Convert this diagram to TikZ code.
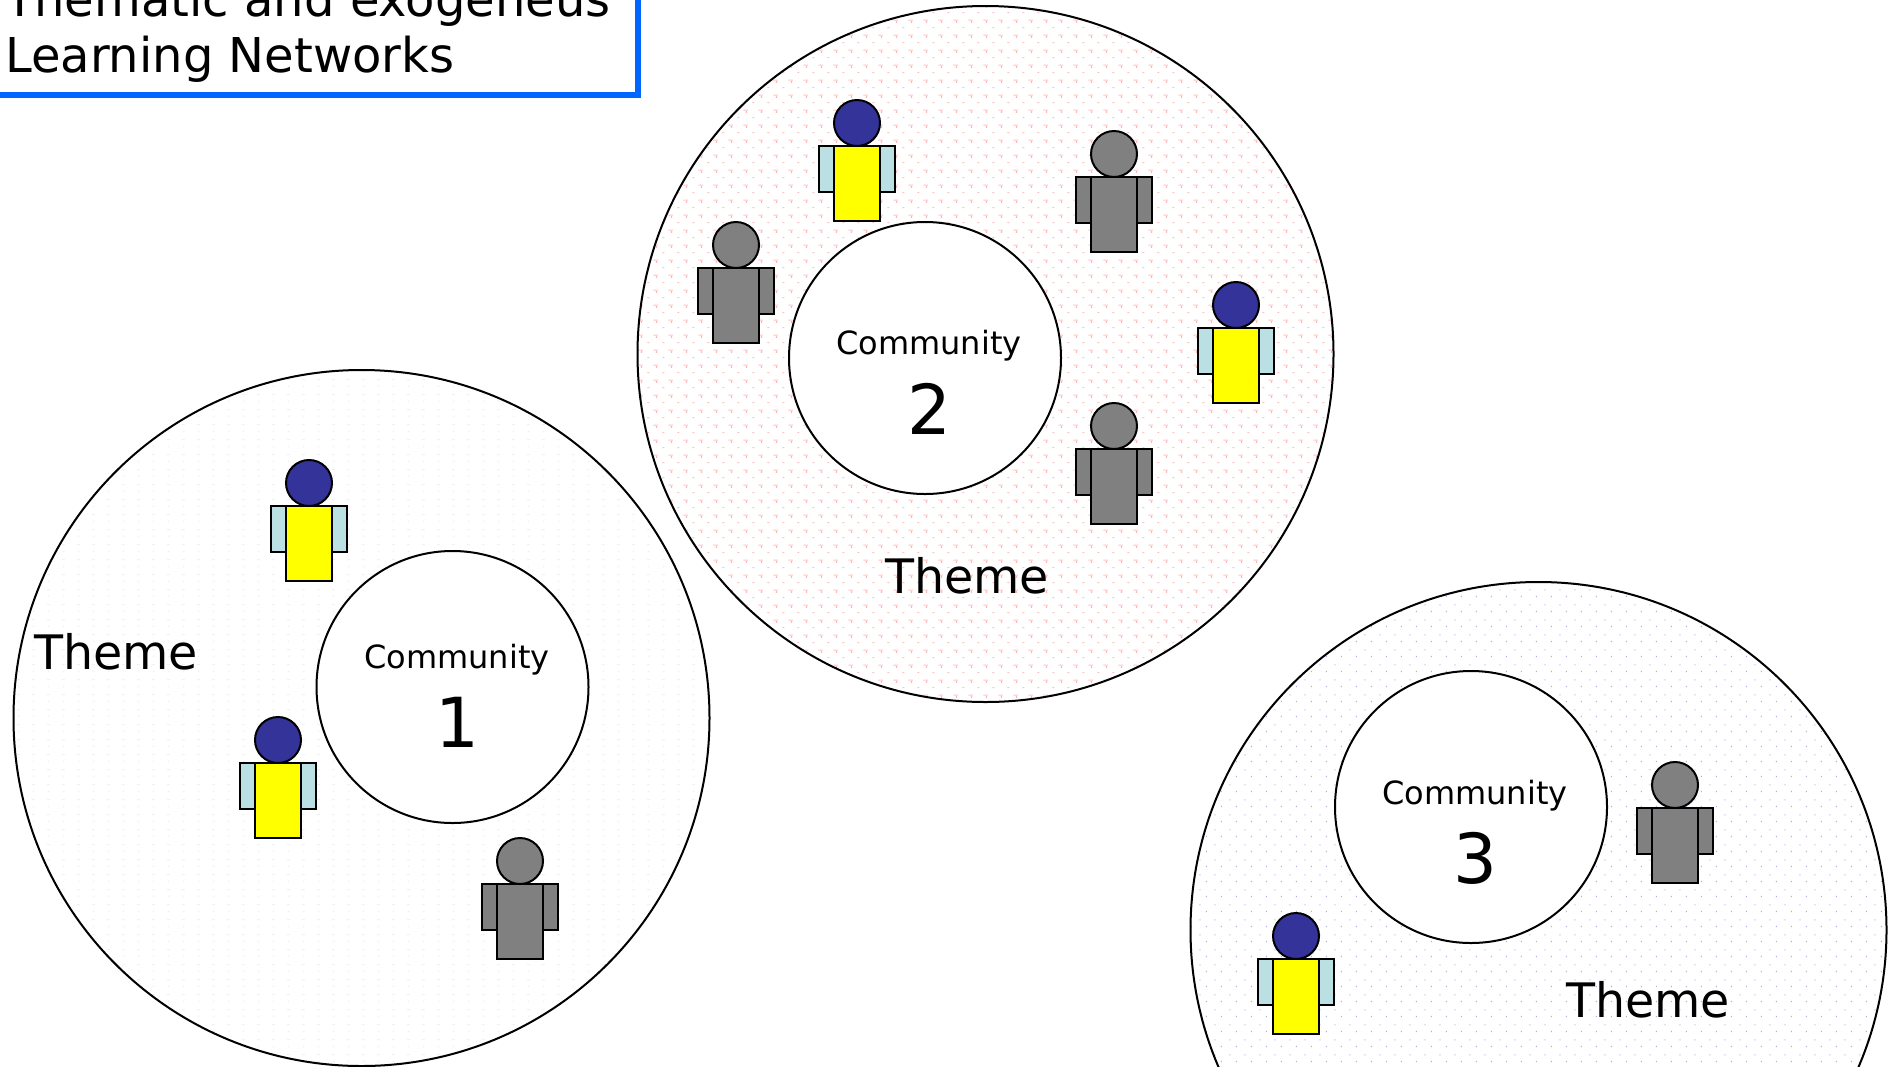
\documentclass[tikz,border=0pt]{standalone}
\usepackage{fontspec}
\usetikzlibrary{patterns}
\setmainfont{DejaVu Sans}
\definecolor{headblue}{RGB}{51,51,153}
\definecolor{armblue}{RGB}{187,224,227}
\definecolor{bodygray}{RGB}{128,128,128}
\definecolor{boxblue}{RGB}{0,102,255}
\definecolor{pureyellow}{RGB}{255,255,0}
\definecolor{pinkA}{RGB}{255,195,195}
\definecolor{pinkB}{RGB}{255,140,140}
\definecolor{faintA}{RGB}{240,243,243}
\definecolor{blueA}{RGB}{215,215,238}
\definecolor{blueB}{RGB}{175,175,220}
\pgfdeclarepatterninherentlycolored{faintdots}{\pgfpointorigin}{\pgfqpoint{14.7pt}{14.7pt}}{\pgfqpoint{14.7pt}{14.7pt}}{%
  \pgfsetfillcolor{faintA}%
  \pgfpathrectangle{\pgfqpoint{2pt}{11pt}}{\pgfqpoint{3pt}{1pt}}%
  \pgfpathrectangle{\pgfqpoint{3pt}{4pt}}{\pgfqpoint{1.5pt}{1.5pt}}%
  \pgfusepath{fill}}
\pgfdeclarepatterninherentlycolored{pinkdots}{\pgfpointorigin}{\pgfqpoint{14.7pt}{14.7pt}}{\pgfqpoint{14.7pt}{14.7pt}}{%
  \pgfsetfillcolor{pinkA}%
  \pgfpathrectangle{\pgfqpoint{6.5pt}{3.5pt}}{\pgfqpoint{4.5pt}{1pt}}%
  \pgfpathrectangle{\pgfqpoint{0.5pt}{11pt}}{\pgfqpoint{2pt}{1pt}}%
  \pgfusepath{fill}%
  \pgfsetfillcolor{pinkB}%
  \pgfpathrectangle{\pgfqpoint{9pt}{1.5pt}}{\pgfqpoint{1.2pt}{1.2pt}}%
  \pgfusepath{fill}}
\pgfdeclarepatterninherentlycolored{bluedots}{\pgfpointorigin}{\pgfqpoint{14.6pt}{14.6pt}}{\pgfqpoint{14.6pt}{14.6pt}}{%
  \pgfsetfillcolor{blueA}%
  \pgfpathrectangle{\pgfqpoint{2pt}{11pt}}{\pgfqpoint{2pt}{1pt}}%
  \pgfusepath{fill}%
  \pgfsetfillcolor{blueB}%
  \pgfpathrectangle{\pgfqpoint{9pt}{4pt}}{\pgfqpoint{1.2pt}{1.2pt}}%
  \pgfusepath{fill}}
\tikzset{
  x=1pt,y=-1pt,
  outline/.style={draw=black,line width=2pt},
  personline/.style={draw=black,line width=2pt},
  bigtext/.style={font=\fontsize{47.5}{47.5}\selectfont,anchor=base west,inner sep=0pt},
  commtext/.style={font=\fontsize{32}{32}\selectfont,anchor=base,inner sep=0pt},
  numtext/.style={font=\fontsize{69}{69}\selectfont,anchor=base,inner sep=0pt},
  titletext/.style={font=\fontsize{48}{48}\selectfont,anchor=base west,inner sep=0pt}
}
% #1 head centre x, #2 head centre y, #3 head, #4 arms, #5 body
\newcommand{\personfig}[5]{%
  \begin{scope}[shift={(#1,#2)}]
    \path[personline,fill=#4] (-38,23) rectangle (38,69);
    \path[personline,fill=#5] (-23,23) rectangle (23,98);
    \path[personline,fill=#3] (0,0) circle (23);
  \end{scope}}
\newcommand{\yellowfig}[2]{\personfig{#1}{#2}{headblue}{armblue}{pureyellow}}
\newcommand{\grayfig}[2]{\personfig{#1}{#2}{bodygray}{bodygray}{bodygray}}
\begin{document}
\begin{tikzpicture}
\useasboundingbox (0,0) rectangle (1889,1066);
\fill[white] (0,0) rectangle (1889,1066);
% Circles
\node[outline,circle,pattern=faintdots,minimum size=696pt,inner sep=0pt] (theme1) at (361.5,718) {};
\node[outline,circle,pattern=pinkdots,minimum size=696pt,inner sep=0pt] (theme2) at (985.5,354) {};
\node[outline,circle,pattern=bluedots,minimum size=696pt,inner sep=0pt] (theme3) at (1538.5,930) {};
\node[outline,circle,fill=white,minimum size=272pt,inner sep=0pt] (comm1) at (452.5,687) {};
\node[outline,circle,fill=white,minimum size=272pt,inner sep=0pt] (comm2) at (925,358) {};
\node[outline,circle,fill=white,minimum size=272pt,inner sep=0pt] (comm3) at (1471,807) {};
% People
\yellowfig{857}{123}
\grayfig{1114}{154}
\grayfig{736}{245}
\yellowfig{1236}{305}
\grayfig{1114}{426}
\yellowfig{309}{483}
\yellowfig{278}{740}
\grayfig{520}{861}
\grayfig{1675}{785}
\yellowfig{1296}{936}
% Title box
\draw[boxblue,line width=6pt] (-10,-10) rectangle (638,95);
\node[titletext] (title1) at (5,16) {Thematic and exogeneus};
\node[titletext] (title2) at (5,72) {Learning Networks};
% Labels
\node[bigtext] (themeA) at (34,669) {Theme};
\node[bigtext] (themeB) at (885,593) {Theme};
\node[bigtext] (themeC) at (1566,1017) {Theme};
\node[commtext] (cA) at (457,668) {Community};
\node[commtext] (cB) at (929,354) {Community};
\node[commtext] (cC) at (1475,804) {Community};
\node[numtext] (nA) at (457,747) {1};
\node[numtext] (nB) at (929,434) {2};
\node[numtext] (nC) at (1475,883) {3};
\end{tikzpicture}
\end{document}
